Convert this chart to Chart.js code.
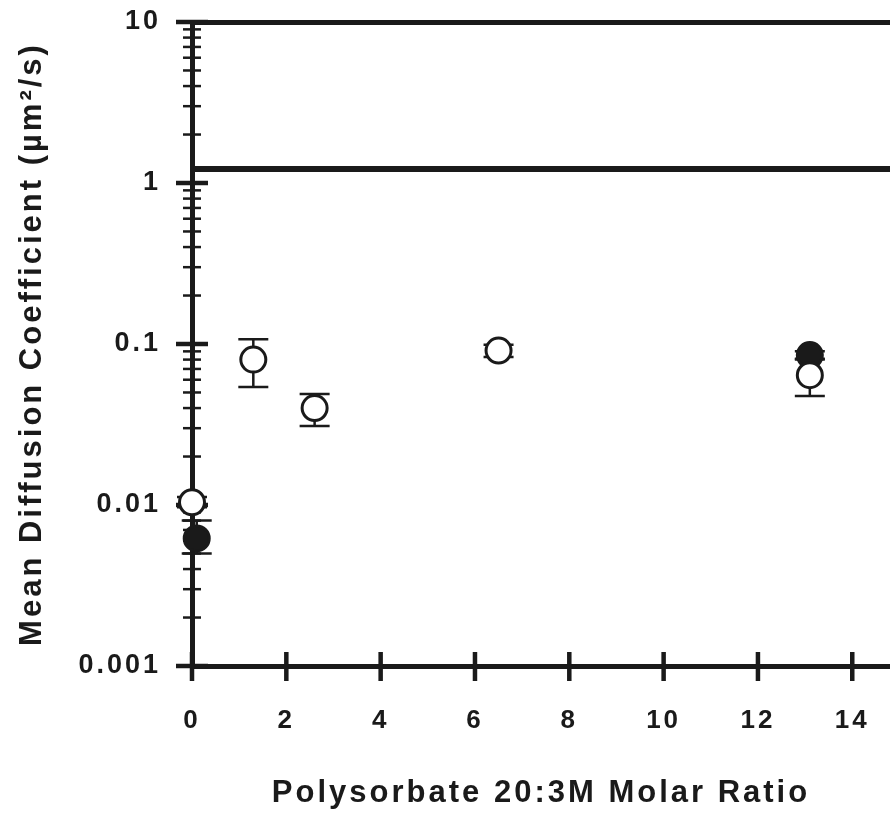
<!DOCTYPE html>
<html>
<head>
<meta charset="utf-8">
<script src="https://cdn.jsdelivr.net/npm/chart.js@4/dist/chart.umd.min.js"></script>
<style>
body{margin:0;background:#fff;}
#wrap{width:890px;height:815px;}
</style>
</head>
<body>
<div id="wrap"><canvas id="chart" width="890" height="815"></canvas></div>
<script>

// ======================
// DATA
// ======================

const openX = [0, 1.3, 2.6, 6.5, 13.1];
const openY = [0.0104, 0.080, 0.040, 0.091, 0.064];
const openLow = [0.0097, 0.054, 0.031, 0.083, 0.0476];
const openHigh = [0.0112, 0.107, 0.049, 0.099, 0.080];

const filledX = [0.1, 13.1];
const filledY = [0.0062, 0.0854];
const filledLow = [0.0050, 0.081];
const filledHigh = [0.0080, 0.090];

const refLevel = 1.22;

const xTicks = [0, 2, 4, 6, 8, 10, 12, 14];
const yDecades = [0.001, 0.01, 0.1, 1, 10];
const yMinorSteps = [2, 3, 4, 5, 6, 7, 8, 9];

const INK = "#1a1a1a";
const FONT = "'Liberation Sans', Arial, sans-serif";

// ======================
// PLUGINS
// ======================

const spacing = {
    id: "spacing",
    beforeUpdate(chart){
        chart.ctx.letterSpacing = "3px";
    },
    beforeDraw(chart){
        chart.ctx.letterSpacing = "3px";
    }
};

const tickMarks = {
    id: "tickMarks",
    beforeDatasetsDraw(chart){
        const ctx = chart.ctx;
        const area = chart.chartArea;
        const xs = chart.scales.x;
        const ys = chart.scales.y;
        ctx.save();
        ctx.strokeStyle = INK;

        ys.ticks.forEach(t => {
            const y = ys.getPixelForValue(t.value);
            const major = yDecades.includes(t.value);
            const len = major ? 16 : 9;
            ctx.lineWidth = major ? 4.5 : 2.5;
            ctx.beginPath();
            ctx.moveTo(area.left - len, y);
            ctx.lineTo(area.left + len, y);
            ctx.stroke();
        });

        ctx.lineWidth = 4.5;
        xs.ticks.forEach(t => {
            const x = xs.getPixelForValue(t.value);
            ctx.beginPath();
            ctx.moveTo(x, area.bottom - 14);
            ctx.lineTo(x, area.bottom + 15);
            ctx.stroke();
        });
        ctx.restore();
    }
};

const errorBars = {
    id: "errorBars",
    beforeDatasetsDraw(chart){
        const ctx = chart.ctx;
        const xs = chart.scales.x;
        const ys = chart.scales.y;
        ctx.save();
        ctx.strokeStyle = INK;
        ctx.lineWidth = 2.5;
        chart.data.datasets.forEach(ds => {
            if(!ds.errLow) return;
            ds.data.forEach((p, i) => {
                const x = xs.getPixelForValue(p.x);
                const lo = ys.getPixelForValue(ds.errLow[i]);
                const hi = ys.getPixelForValue(ds.errHigh[i]);
                ctx.beginPath();
                ctx.moveTo(x, lo);
                ctx.lineTo(x, hi);
                ctx.moveTo(x - 15, lo);
                ctx.lineTo(x + 15, lo);
                ctx.moveTo(x - 15, hi);
                ctx.lineTo(x + 15, hi);
                ctx.stroke();
            });
        });
        ctx.restore();
    }
};

// ======================
// CHART
// ======================

// invisible grid ticks only push the labels away from the axes
const hiddenTicks = len => ({
    display: true,
    drawOnChartArea: false,
    drawTicks: true,
    tickLength: len,
    tickWidth: 0,
    tickColor: "rgba(0,0,0,0)"
});

new Chart(
document.getElementById("chart"),
{
type: "scatter",
data: {
datasets: [
{
    data: openX.map((x, i) => ({x: x, y: openY[i]})),
    errLow: openLow,
    errHigh: openHigh,
    backgroundColor: "#ffffff",
    borderColor: INK,
    borderWidth: 3,
    pointRadius: 12.5,
    clip: false
},
{
    data: filledX.map((x, i) => ({x: x, y: filledY[i]})),
    errLow: filledLow,
    errHigh: filledHigh,
    backgroundColor: INK,
    borderColor: INK,
    borderWidth: 3,
    pointRadius: 12.5,
    clip: false
},
{
    data: [{x: 0, y: refLevel}, {x: 14.8, y: refLevel}],
    showLine: true,
    borderColor: INK,
    borderWidth: 6,
    pointRadius: 0
}
]
},
options: {
responsive: false,
animation: false,
layout: {
    autoPadding: false,
    padding: {left: 0, right: 0, top: 22, bottom: 0}
},
plugins: {
    legend: {display: false},
    tooltip: {enabled: false}
},
scales: {
    x: {
        type: "linear",
        position: "bottom",
        min: 0,
        max: 14.8,
        afterBuildTicks: s => {
            s.ticks = xTicks.map(v => ({value: v}));
        },
        afterFit: s => {
            s.height = 149;
        },
        grid: hiddenTicks(39),
        border: {display: true, width: 5, color: INK},
        ticks: {
            autoSkip: false,
            maxRotation: 0,
            padding: 0,
            color: INK,
            font: {family: FONT, size: 26, weight: "bold"},
            callback: v => String(v)
        },
        title: {
            display: true,
            text: "Polysorbate 20:3M Molar Ratio",
            color: INK,
            font: {family: FONT, size: 31, weight: "bold"},
            padding: {top: 0, bottom: 3}
        }
    },
    x2: {
        type: "linear",
        position: "top",
        min: 0,
        max: 14.8,
        afterFit: s => {
            s.height = 0;
        },
        grid: {display: false},
        ticks: {display: false},
        border: {display: true, width: 5, color: INK}
    },
    y: {
        type: "logarithmic",
        min: 0.001,
        max: 10,
        afterBuildTicks: s => {
            const list = [];
            yDecades.forEach((d, k) => {
                list.push({value: d});
                if(k < yDecades.length - 1){
                    yMinorSteps.forEach(m => {
                        list.push({value: Number((m * d).toPrecision(3))});
                    });
                }
            });
            s.ticks = list;
        },
        afterFit: s => {
            s.width = 192;
        },
        grid: hiddenTicks(31),
        border: {display: true, width: 5, color: INK},
        ticks: {
            autoSkip: false,
            padding: 0,
            color: INK,
            font: {family: FONT, size: 27, weight: "bold"},
            callback: v => yDecades.includes(v) ? String(v) : ""
        },
        title: {
            display: true,
            text: "Mean Diffusion Coefficient (µm²/s)",
            color: INK,
            font: {family: FONT, size: 31, weight: "bold"},
            padding: {top: 14, bottom: 0}
        }
    }
}
},
plugins: [spacing, tickMarks, errorBars]
}
);

</script>
</body>
</html>
